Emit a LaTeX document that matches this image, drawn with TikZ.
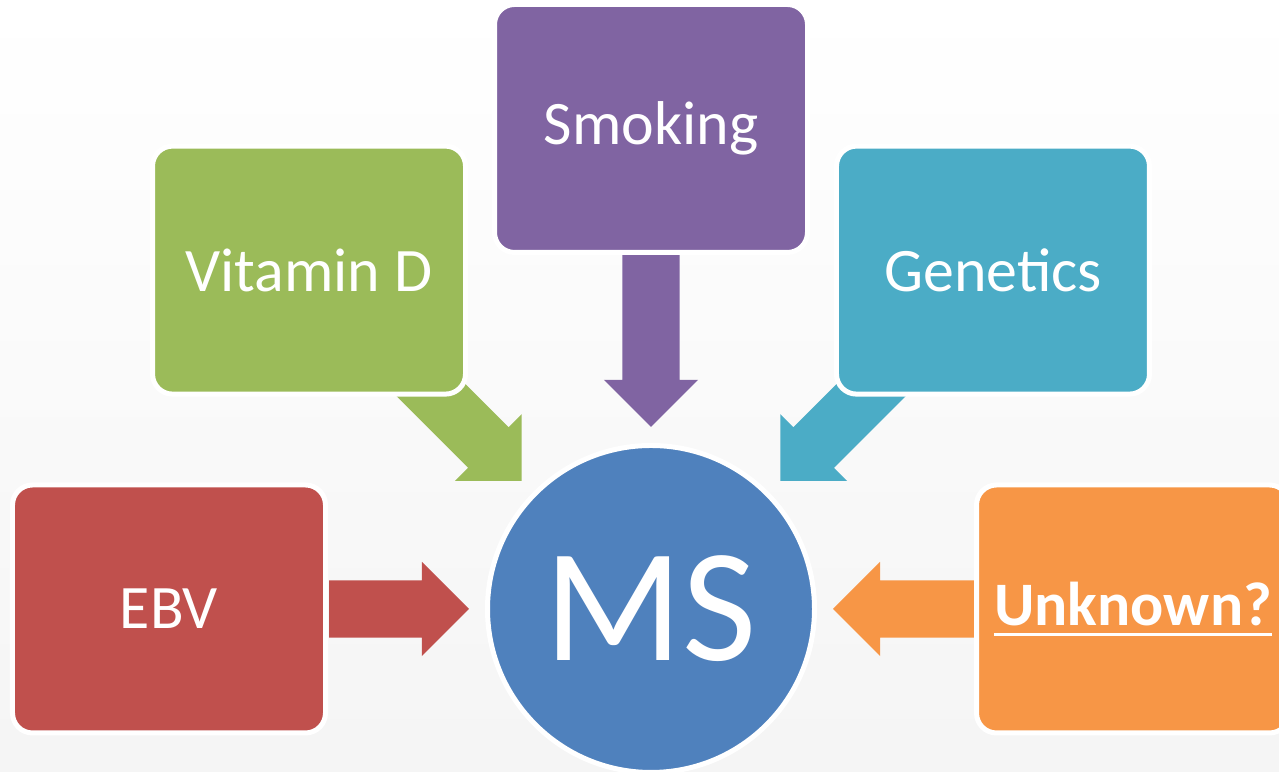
\documentclass[tikz,border=0pt]{standalone}
\usepackage{fontspec}
\setmainfont{Carlito}
\usetikzlibrary{positioning,calc,shapes.arrows}

\definecolor{ebvred}{HTML}{C0504D}
\definecolor{vitgreen}{HTML}{9BBB59}
\definecolor{smokepurple}{HTML}{8064A2}
\definecolor{genteal}{HTML}{4BACC6}
\definecolor{unkorange}{HTML}{F79646}
\definecolor{msblue}{HTML}{4F81BD}

\pgfdeclarelayer{bg}
\pgfdeclarelayer{links}
\pgfsetlayers{bg,links,main}

% underlined word with a heavier rule
\newcommand\ulword[1]{{\setbox0\hbox{#1}\rlap{\rule[-2.9pt]{\wd0}{0.75pt}}\box0}}

\begin{document}
\begin{tikzpicture}[
  font=\fontsize{17.6pt}{21pt}\selectfont,
  cause/.style={
    rectangle,
    draw=white,
    line width=0.05cm,
    rounded corners=0.2cm,
    minimum width=3.13cm,
    minimum height=2.48cm,
    text=white,
    align=center,
  },
  hub/.style={
    circle,
    draw=white,
    line width=0.05cm,
    fill=msblue,
    minimum size=3.27cm,
    inner sep=0pt,
    text=white,
    font=\fontsize{46pt}{50pt}\selectfont,
  },
  push/.style={
    single arrow,
    draw=none,
    inner xsep=0pt,
    inner ysep=0.28cm,
    single arrow head extend=0.185cm,
    single arrow tip angle=90,
    anchor=tip,
  },
]

  \useasboundingbox (0,0) rectangle (12.79,7.72);
  \begin{pgfonlayer}{bg}
    \shade[top color=white, bottom color=black!4] (0,0) rectangle (12.79,7.72);
  \end{pgfonlayer}

  % --- Centre: the disease ---
  \node[hub] (ms) at (6.51,1.63) {MS};

  % --- Risk factors round it ---
  \node[cause, fill=smokepurple, above=1.88cm of ms] (smoking) {Smoking};
  \node[cause, fill=vitgreen, above left=0.95cm and 0.656cm of ms] (vitd) {Vitamin D};
  \node[cause, fill=genteal, above right=0.95cm and 0.656cm of ms] (genetics) {Genetics};
  \node[cause, fill=ebvred, left=1.57cm of ms] (ebv) {EBV};
  \node[cause, fill=unkorange, right=1.57cm of ms] (unknown) {\textbf{\ulword{Unknown?}}};

  % --- Block arrows, tucked under the boxes ---
  \begin{pgfonlayer}{links}
    \foreach \src/\ang/\len/\tint in {ebv/0/1.40/ebvred, unknown/180/1.42/unkorange,
        smoking/-90/1.73/smokepurple, vitd/-45/1.50/vitgreen, genetics/-135/1.50/genteal} {
      \node[push, fill=\tint, minimum height=\len cm, rotate=\ang] (\src-arrow)
        at ($(ms.center)!1.81cm!(\src.center)$) {};
    }
  \end{pgfonlayer}

\end{tikzpicture}
\end{document}
